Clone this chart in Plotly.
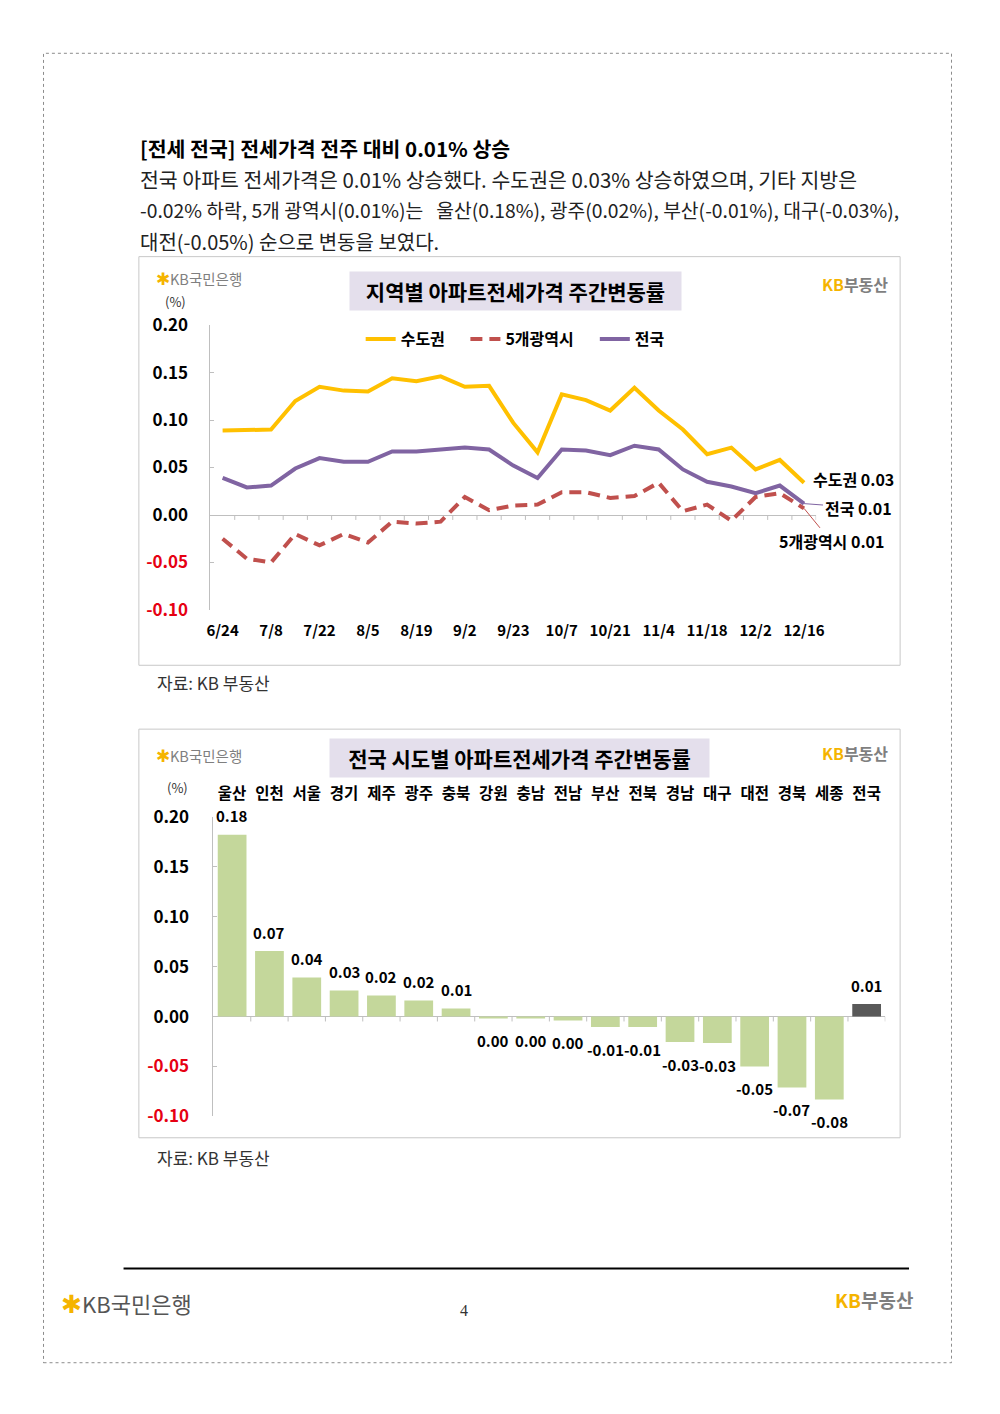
import plotly.graph_objects as go

W, H = 1000, 1414
FONT = "Noto Sans CJK KR"

# ---------------- data ----------------
dates = ["6/24", "7/1", "7/8", "7/15", "7/22", "7/29", "8/5", "8/12", "8/19", "8/26",
         "9/2", "9/9", "9/23", "9/30", "10/7", "10/14", "10/21", "10/28", "11/4",
         "11/11", "11/18", "11/25", "12/2", "12/9", "12/16"]
sudogwon = [0.089, 0.089, 0.090, 0.120, 0.135, 0.131, 0.130, 0.144, 0.141, 0.146,
            0.135, 0.136, 0.097, 0.066, 0.127, 0.121, 0.110, 0.134, 0.110, 0.090,
            0.064, 0.071, 0.048, 0.058, 0.034]
metro5 = [-0.025, -0.046, -0.050, -0.020, -0.032, -0.020, -0.029, -0.007, -0.009, -0.007,
          0.019, 0.005, 0.010, 0.011, 0.024, 0.024, 0.018, 0.020, 0.034, 0.004,
          0.011, -0.006, 0.019, 0.023, 0.007]
national = [0.039, 0.029, 0.031, 0.049, 0.060, 0.056, 0.056, 0.067, 0.067, 0.069,
            0.071, 0.069, 0.052, 0.039, 0.069, 0.068, 0.063, 0.073, 0.069, 0.048,
            0.035, 0.030, 0.023, 0.031, 0.012]
series_names = ["수도권", "5개광역시", "전국"]

regions = ["울산", "인천", "서울", "경기", "제주", "광주", "충북", "강원", "충남",
           "전남", "부산", "전북", "경남", "대구", "대전", "경북", "세종", "전국"]
region_change = [0.182, 0.0655, 0.039, 0.026, 0.021, 0.016, 0.008, -0.002, -0.002,
                 -0.004, -0.0105, -0.0105, -0.0255, -0.0265, -0.050, -0.071, -0.083, 0.0125]

ytick_vals = [-0.10, -0.05, 0.00, 0.05, 0.10, 0.15, 0.20]
top_xtick_labels = dates[::2]

# ---------------- style ----------------
C_SUDO = "#FFC000"
C_METRO = "#C0504D"
C_NAT = "#8064A2"
C_BAR = "#C4D79B"
C_BAR_NAT = "#595959"
C_NEG = "#E60012"
C_AXIS = "#BFBFBF"
C_KB = "#F5B400"
C_GRAY = "#7F7F7F"


def px(x):
    return x / W


def py(y):
    return 1 - y / H


ytick_text = [f"<span style='color:{C_NEG}'>{v:.2f}</span>" if v < 0 else f"{v:.2f}"
              for v in ytick_vals]

fig = go.Figure()

# top chart lines (each with its own legend so the entries sit where the original has them)
fig.add_trace(go.Scatter(x=dates, y=sudogwon, name=series_names[0], mode="lines",
                         line=dict(color=C_SUDO, width=4), xaxis="x", yaxis="y",
                         legend="legend"))
fig.add_trace(go.Scatter(x=dates, y=metro5, name=series_names[1], mode="lines",
                         line=dict(color=C_METRO, width=4, dash="12px,7px"),
                         xaxis="x", yaxis="y", legend="legend2"))
fig.add_trace(go.Scatter(x=dates, y=national, name=series_names[2], mode="lines",
                         line=dict(color=C_NAT, width=4), xaxis="x", yaxis="y",
                         legend="legend3"))

# bottom chart bars
bar_colors = [C_BAR_NAT if r == "전국" else C_BAR for r in regions]
fig.add_trace(go.Bar(x=regions, y=region_change,
                     marker=dict(color=bar_colors, line=dict(width=0)),
                     showlegend=False, xaxis="x2", yaxis="y2"))

# plot area pixel geometry
TOP_X = (209, 822)
TOP_Y = (316.7, 606.7)
BOT_X = (212, 892)
BOT_Y = (817.2, 1122.3)
YR = [-0.10, 0.20]

leg_common = dict(orientation="h", yanchor="middle", xanchor="left",
                  font=dict(size=16, weight="bold"), bgcolor="rgba(0,0,0,0)",
                  itemclick=False, itemdoubleclick=False)
fig.update_layout(
    width=W, height=H, margin=dict(l=0, r=0, t=0, b=0),
    paper_bgcolor="white", plot_bgcolor="white",
    font=dict(family=FONT, color="#000000"),
    bargap=0.23,
    xaxis=dict(domain=[px(TOP_X[0]), px(TOP_X[1])], anchor="y", type="category",
               categoryorder="array", categoryarray=dates,
               range=[-0.5, len(dates) - 0.5],
               tickvals=top_xtick_labels, ticks="", showline=False,
               tickfont=dict(size=15, weight="bold"), ticklabelstandoff=10,
               showgrid=False, zeroline=False),
    yaxis=dict(domain=[py(TOP_Y[1]), py(TOP_Y[0])], anchor="x", range=YR,
               tickvals=ytick_vals, ticktext=ytick_text, showline=True, linecolor=C_AXIS,
               ticks="inside", ticklen=4, tickcolor=C_AXIS,
               tickfont=dict(size=17, weight="bold"), ticklabelstandoff=18,
               showgrid=False, zeroline=True, zerolinecolor=C_AXIS, zerolinewidth=1),
    xaxis2=dict(domain=[px(BOT_X[0]), px(BOT_X[1])], anchor="y2", type="category",
                categoryorder="array", categoryarray=regions, side="top",
                range=[-0.5, len(regions) - 0.5],
                ticks="", showline=False,
                tickfont=dict(size=15.5, weight="bold"), ticklabelstandoff=14,
                showgrid=False, zeroline=False),
    yaxis2=dict(domain=[py(BOT_Y[1]), py(BOT_Y[0])], anchor="x2", range=YR,
                tickvals=ytick_vals, ticktext=ytick_text, showline=True, linecolor=C_AXIS,
                ticks="inside", ticklen=4, tickcolor=C_AXIS,
                tickfont=dict(size=17, weight="bold"), ticklabelstandoff=20,
                showgrid=False, zeroline=True, zerolinecolor=C_AXIS, zerolinewidth=1),
    legend=dict(x=px(361), y=py(331), **leg_common),
    legend2=dict(x=px(467), y=py(331), **leg_common),
    legend3=dict(x=px(598), y=py(331), **leg_common),
)

shapes = []
# page border (dotted)
shapes.append(dict(type="rect", xref="paper", yref="paper", x0=px(40), x1=px(959),
                   y0=py(1373), y1=py(40), line=dict(color="#8C8C8C", width=1, dash="dot")))
# chart frames
for y0, y1 in [(247, 663), (728, 1144)]:
    shapes.append(dict(type="rect", xref="paper", yref="paper", x0=px(136.5), x1=px(907),
                       y0=py(y1), y1=py(y0), line=dict(color="#C8C8C8", width=1)))
# footer rule
shapes.append(dict(type="line", xref="paper", yref="paper", x0=px(121), x1=px(916),
                   y0=py(1277), y1=py(1277), line=dict(color="#000000", width=2)))

# small tick marks along the zero line, at category boundaries
top_tick = 5 * (YR[1] - YR[0]) / (TOP_Y[1] - TOP_Y[0])
for i in range(1, len(dates) + 1):
    shapes.append(dict(type="line", xref="x", yref="y", x0=i - 0.5, x1=i - 0.5,
                       y0=0, y1=-top_tick, line=dict(color=C_AXIS, width=1)))
bot_tick = 5 * (YR[1] - YR[0]) / (BOT_Y[1] - BOT_Y[0])
for i in range(1, len(regions) + 1):
    shapes.append(dict(type="line", xref="x2", yref="y2", x0=i - 0.5, x1=i - 0.5,
                       y0=0, y1=-bot_tick, line=dict(color=C_AXIS, width=1)))

ann = []


def text_at(x, y, text, size, color="#000000", weight="normal", xanchor="left",
            family=FONT, **kw):
    ann.append(dict(xref="paper", yref="paper", x=px(x), y=py(y), text=text,
                    showarrow=False, xanchor=xanchor, yanchor="middle",
                    font=dict(family=family, size=size, color=color, weight=weight), **kw))


# heading and body
text_at(136, 136, "[전세 전국] 전세가격 전주 대비 0.01% 상승", 20.5, weight="bold")
body = ["전국 아파트 전세가격은 0.01% 상승했다. 수도권은 0.03% 상승하였으며, 기타 지방은",
        "-0.02% 하락, 5개 광역시(0.01%)는   울산(0.18%), 광주(0.02%), 부산(-0.01%), 대구(-0.03%),",
        "대전(-0.05%) 순으로 변동을 보였다."]
body_sizes = [20.5, 19.3, 20]
for k, line in enumerate(body):
    text_at(136, 168 + 32 * k, line, body_sizes[k], color="#222222")

# chart titles
ann.append(dict(xref="paper", yref="paper", x=px(517.5), y=py(282),
                text="지역별 아파트전세가격 주간변동률", showarrow=False,
                xanchor="center", yanchor="middle", bgcolor="#E4DFEC", borderpad=4,
                width=323, height=30, align="center",
                font=dict(size=21, weight="bold", color="#000000")))
ann.append(dict(xref="paper", yref="paper", x=px(521.5), y=py(757),
                text="전국 시도별 아파트전세가격 주간변동률", showarrow=False,
                xanchor="center", yanchor="middle", bgcolor="#E4DFEC", borderpad=4,
                width=371, height=30, align="center",
                font=dict(size=21, weight="bold", color="#000000")))

# logos
logo_small = (f"<span style='color:{C_KB};font-size:17px'>✱</span>"
              f"<span style='color:{C_GRAY}'>KB국민은행</span>")
text_at(152, 268, logo_small, 14.5)
text_at(152, 754, logo_small, 14.5)
kbland = f"<span style='color:{C_KB}'>KB</span><span style='color:{C_GRAY}'>부동산</span>"
text_at(897, 275, kbland, 16, weight="bold", xanchor="right")
text_at(897, 752, kbland, 16, weight="bold", xanchor="right")

# unit labels
text_at(174, 293, "(%)", 13, color="#333333", xanchor="center")
text_at(176, 787, "(%)", 13, color="#333333", xanchor="center")

# sources
text_at(153, 681, "자료: KB 부동산", 17, color="#333333")
text_at(153, 1164, "자료: KB 부동산", 17, color="#333333")

# footer
logo_big = (f"<span style='color:{C_KB};font-size:25px'>✱</span>"
            f"<span style='color:#555555'>KB국민은행</span>")
text_at(56, 1311, logo_big, 22)
text_at(466, 1320, "4", 16, color="#333333", xanchor="center", family="Liberation Serif")
text_at(922, 1309, kbland, 19, weight="bold", xanchor="right")

# end-of-line labels
ann.append(dict(xref="x", yref="y", x=dates[-1], y=sudogwon[-1],
                text=f"{series_names[0]} {sudogwon[-1]:.2f}", showarrow=False,
                xanchor="center", yanchor="middle", xshift=49, yshift=4,
                font=dict(size=16, weight="bold", color="#000000")))
ann.append(dict(xref="x", yref="y", x=dates[-1], y=national[-1],
                text=f"{series_names[2]} {national[-1]:.2f}", showarrow=True,
                arrowhead=0, arrowwidth=1, arrowcolor=C_NAT, ax=54, ay=4,
                font=dict(size=16, weight="bold", color="#000000")))
ann.append(dict(xref="x", yref="y", x=dates[-1], y=metro5[-1],
                text=f"{series_names[1]} {metro5[-1]:.2f}", showarrow=True,
                arrowhead=0, arrowwidth=1, arrowcolor=C_METRO, ax=27, ay=33,
                font=dict(size=16, weight="bold", color="#000000")))

# bar value labels (above positive bars, below negative ones)
for r, v in zip(regions, region_change):
    label = "0.00" if abs(v) < 0.005 else f"{v:.2f}"
    ann.append(dict(xref="x2", yref="y2", x=r, y=v, text=label, showarrow=False,
                    xanchor="center", yanchor="middle", yshift=19 if v >= 0 else -22,
                    font=dict(size=15, weight="bold", color="#000000")))

fig.update_layout(shapes=shapes, annotations=ann)
fig.write_html("out.html",
               post_script="document.body.style.margin='0';document.body.style.padding='0';"
                           "document.documentElement.style.overflow='hidden';")
